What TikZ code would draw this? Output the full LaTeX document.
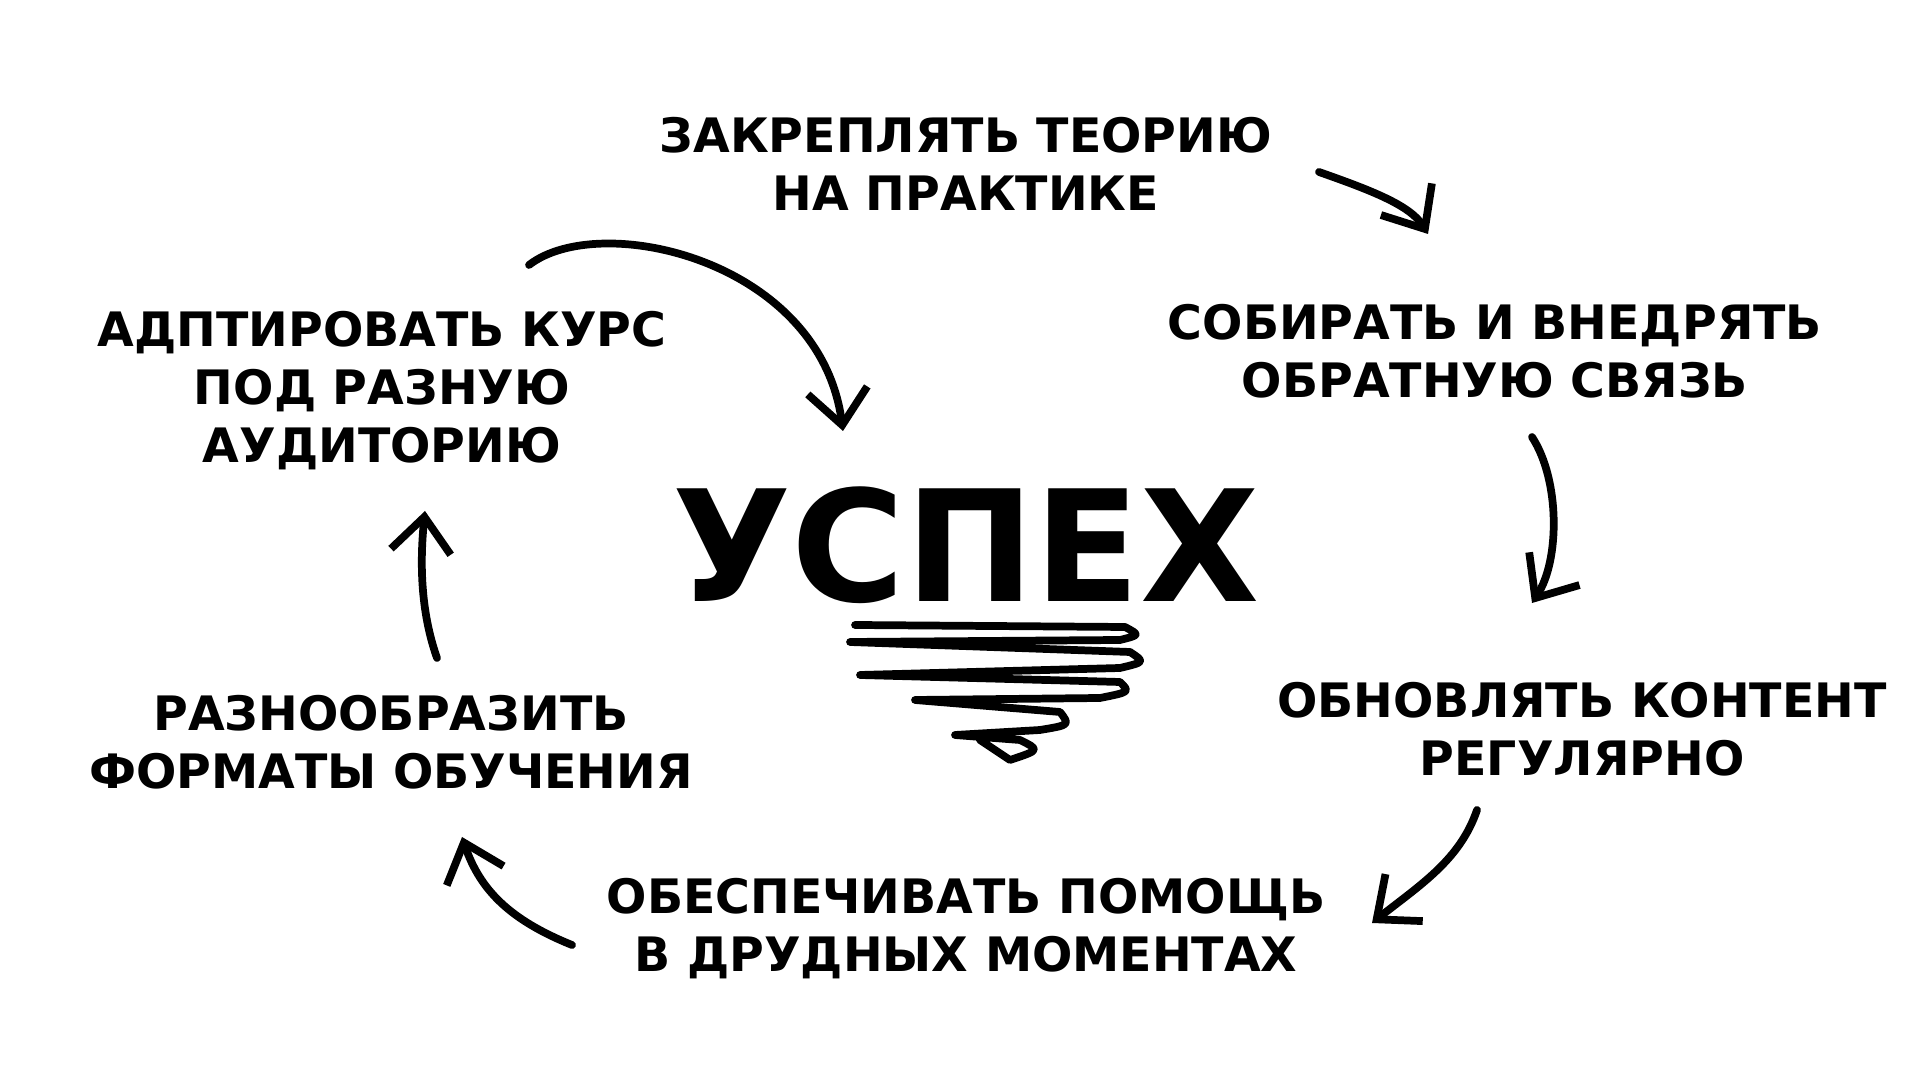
\documentclass[tikz,border=0pt]{standalone}
\usepackage{fontspec}
\setmainfont{DejaVu Sans}
\usetikzlibrary{arrows.meta}
\begin{document}
\begin{tikzpicture}[
  lbl/.style={font=\fontsize{13.5}{16.5}\selectfont\bfseries, align=center, text=black},
  arr/.style={line width=2.2pt, line cap=round, -{Straight Barb[length=3.5mm,width=6mm,line width=2.2pt]}}
]
\useasboundingbox[fill=white] (0,0) rectangle (19.2,10.8);
\node[lbl] (n1) at (9.66,9.16) {ЗАКРЕПЛЯТЬ ТЕОРИЮ\\НА ПРАКТИКЕ};
\node[lbl] (n2) at (14.95,7.29) {СОБИРАТЬ И ВНЕДРЯТЬ\\ОБРАТНУЮ СВЯЗЬ};
\node[lbl] (n3) at (15.82,3.51) {ОБНОВЛЯТЬ КОНТЕНТ\\РЕГУЛЯРНО};
\node[lbl] (n4) at (9.66,1.51) {ОБЕСПЕЧИВАТЬ ПОМОЩЬ\\В ДРУДНЫХ МОМЕНТАХ};
\node[lbl] (n5) at (3.91,3.38) {РАЗНООБРАЗИТЬ\\ФОРМАТЫ ОБУЧЕНИЯ};
\node[lbl] (n6) at (3.82,6.89) {АДПТИРОВАТЬ КУРС\\ПОД РАЗНУЮ\\АУДИТОРИЮ};
\node[font=\fontsize{44}{44}\selectfont\bfseries] (c) at (9.66,5.35) {УСПЕХ};

\coordinate (a1) at (13.19,9.08); \coordinate (a2) at (14.28,8.46);
\draw[arr] (a1) .. controls (13.7,8.9) and (14.1,8.75) .. (a2);
\coordinate (b1) at (15.32,6.43); \coordinate (b2) at (15.32,4.77);
\draw[arr] (b1) .. controls (15.6,6.0) and (15.6,5.2) .. (b2);
\coordinate (c1) at (14.77,2.70); \coordinate (c2) at (13.72,1.57);
\draw[arr] (c1) .. controls (14.6,2.2) and (14.2,1.95) .. (c2);
\coordinate (d1) at (5.72,1.35); \coordinate (d2) at (4.62,2.43);
\draw[arr] (d1) .. controls (5.1,1.6) and (4.8,1.9) .. (d2);
\coordinate (e1) at (4.37,4.22); \coordinate (e2) at (4.25,5.69);
\draw[arr] (e1) .. controls (4.2,4.7) and (4.2,5.2) .. (e2);
\coordinate (f1) at (5.29,8.15); \coordinate (f2) at (8.43,6.49);
\draw[arr] (f1) .. controls (6.0,8.7) and (8.2,8.2) .. (f2);

\draw[line width=2.2pt, line cap=round, line join=round]
 (8.55,4.55) -- (11.25,4.53) .. controls (11.4,4.45) .. (11.2,4.40) -- (8.5,4.38)
 -- (11.3,4.28) .. controls (11.45,4.18) .. (11.2,4.12) -- (8.6,4.05)
 -- (11.2,3.98) .. controls (11.3,3.88) .. (11.0,3.82) -- (9.15,3.80)
 -- (10.6,3.68) .. controls (10.7,3.55) .. (10.4,3.50) -- (9.55,3.45)
 -- (10.2,3.40) .. controls (10.4,3.3) .. (10.1,3.2) -- (9.8,3.4);
\end{tikzpicture}
\end{document}
